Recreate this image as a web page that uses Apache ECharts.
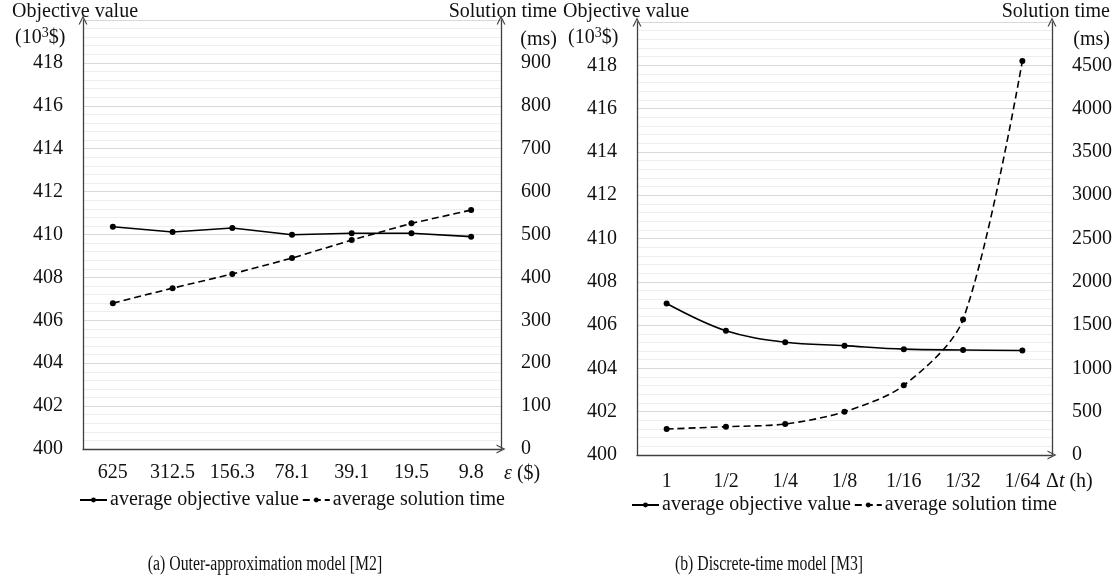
<!DOCTYPE html>
<html>
<head>
<meta charset="utf-8">
<script src="https://cdn.jsdelivr.net/npm/echarts@6/dist/echarts.min.js"></script>
<style>
html,body{margin:0;padding:0;background:#fff;}
#chart{width:1118px;height:580px;}
</style>
</head>
<body>
<div id="chart"></div>
<script>
// ---- data ----
const catsA = ['625', '312.5', '156.3', '78.1', '39.1', '19.5', '9.8'];
const objA = [410.36, 410.12, 410.3, 409.99, 410.06, 410.06, 409.9];
const timeA = [340, 375, 408, 445, 487, 526, 557];

const catsB = ['1', '1/2', '1/4', '1/8', '1/16', '1/32', '1/64'];
const objB = [407.0, 405.74, 405.21, 405.05, 404.89, 404.85, 404.83];
const timeB = [300, 327, 358, 500, 804, 1566, 4550];

const nameObj = 'average objective value';
const nameTime = 'average solution time';

// ---- style ----
const FONT = 'Liberation Serif';
const TXT = '#111';
const AXC = '#404040';
const arrow = 'path://M0,10 L5,0 L10,10 L8.6,10 L5,2.8 L1.4,10 Z';

function xAx(gi, cats, nameRich) {
  return {
    type: 'category', gridIndex: gi, data: cats, boundaryGap: true,
    axisLine: {show: true, lineStyle: {color: AXC, width: 1.3}, symbol: ['none', arrow], symbolSize: [9, 9]},
    axisTick: {show: false},
    axisLabel: {color: TXT, fontFamily: FONT, fontSize: 20, margin: gi === 0 ? 14 : 17},
    splitLine: {show: false},
    name: nameRich.text, nameLocation: 'end', nameGap: nameRich.gap,
    nameTextStyle: {
      color: TXT, fontFamily: FONT, fontSize: 20, align: 'left', verticalAlign: 'middle',
      padding: [nameRich.pad, 0, 0, 0],
      rich: {
        i: {fontFamily: FONT, fontSize: 20, fontStyle: 'italic', color: TXT},
        n: {fontFamily: FONT, fontSize: 20, color: TXT}
      }
    }
  };
}
function yObj(gi) {
  return {
    type: 'value', gridIndex: gi, min: 400, max: 420, interval: 2, position: 'left',
    axisLine: {show: true, lineStyle: {color: AXC, width: 1.3}, symbol: ['none', arrow], symbolSize: [9, 9]},
    axisTick: {show: false},
    axisLabel: {color: TXT, fontFamily: FONT, fontSize: 20, margin: 20, showMaxLabel: false},
    splitLine: {show: true, lineStyle: {color: '#d9d9d9', width: 1}},
    minorTick: {show: false, splitNumber: 5},
    minorSplitLine: {show: true, lineStyle: {color: '#eeeeee', width: 1}}
  };
}
function yTime(gi, max, interval) {
  return {
    type: 'value', gridIndex: gi, min: 0, max: max, interval: interval, position: 'right',
    axisLine: {show: true, onZero: false, lineStyle: {color: AXC, width: 1.3}, symbol: ['none', arrow], symbolSize: [9, 9]},
    axisTick: {show: false},
    axisLabel: {color: TXT, fontFamily: FONT, fontSize: 20, margin: 20, showMaxLabel: false,
                formatter: function (v) { return String(v); }},
    splitLine: {show: false}
  };
}
function serie(name, xi, yi, data, dashed, smooth) {
  return {
    name: name, type: 'line', xAxisIndex: xi, yAxisIndex: yi, data: data,
    smooth: smooth, symbol: 'circle', symbolSize: 6,
    itemStyle: {color: '#000'},
    lineStyle: {color: '#000', width: 1.6, type: dashed ? [7, 4] : 'solid'},
    emphasis: {disabled: true}
  };
}

const legendBase = {
  itemWidth: 27, itemHeight: 6, itemGap: 3, data: [nameObj, nameTime],
  textStyle: {color: TXT, fontFamily: FONT, fontSize: 20, padding: [0, 0, 0, -2]}, selectedMode: false
};

const option = {
  backgroundColor: '#fff',
  animation: false,
  grid: [
    {left: 83, top: 20, width: 418, height: 429, containLabel: false},
    {left: 637, top: 22, width: 415, height: 433, containLabel: false}
  ],
  xAxis: [
    xAx(0, catsA, {text: '{i|ε} {n|($)}', gap: 3, pad: 50}),
    xAx(1, catsB, {text: '{n|Δ}{i|t}{n| (h)}', gap: -14, pad: 54})
  ],
  yAxis: [yObj(0), yTime(0, 1000, 100), yObj(1), yTime(1, 5000, 500)],
  legend: [
    Object.assign({left: 74, top: 485}, legendBase),
    Object.assign({left: 626, top: 490}, legendBase)
  ],
  series: [
    serie(nameObj, 0, 0, objA, false, false),
    serie(nameTime, 0, 1, timeA, true, false),
    serie(nameObj, 1, 2, objB, false, 0.35),
    serie(nameTime, 1, 3, timeB, true, 0.3)
  ],
  graphic: []
};

const F20 = '20px "Liberation Serif"';
const supRich = {
  n: {font: F20, fill: TXT},
  s: {font: '14px "Liberation Serif"', fill: TXT, padding: [0, 0, 9, 0]}
};
const g = [];
function plain(x, y, s, align) {
  g.push({type: 'text', x: x, y: y, style: {text: s, fill: TXT, font: F20, align: align || 'left', verticalAlign: 'middle'}});
}
function unitObj(x, y) {
  g.push({type: 'text', x: x, y: y, style: {text: '{n|(10}{s|3}{n|$)}', rich: supRich, fill: TXT, font: F20, align: 'left', verticalAlign: 'middle'}});
}
// axis titles (left chart)
plain(12, 12, 'Objective value');
unitObj(15, 38);
plain(557, 12, 'Solution time', 'right');
plain(557, 40, '(ms)', 'right');
// axis titles (right chart)
plain(563, 12, 'Objective value');
unitObj(568, 38);
plain(1110, 12, 'Solution time', 'right');
plain(1110, 40, '(ms)', 'right');
// captions
g.push({type: 'text', x: 265, y: 565, scaleX: 0.79, style: {text: '(a) Outer-approximation model [M2]', fill: TXT, font: '20px "Liberation Serif"', align: 'center', verticalAlign: 'middle'}});
g.push({type: 'text', x: 769, y: 565, scaleX: 0.79, style: {text: '(b) Discrete-time model [M3]', fill: TXT, font: '20px "Liberation Serif"', align: 'center', verticalAlign: 'middle'}});
option.graphic = g;

const chart = echarts.init(document.getElementById('chart'), null, {renderer: 'canvas'});
chart.setOption(option);
</script>
</body>
</html>
